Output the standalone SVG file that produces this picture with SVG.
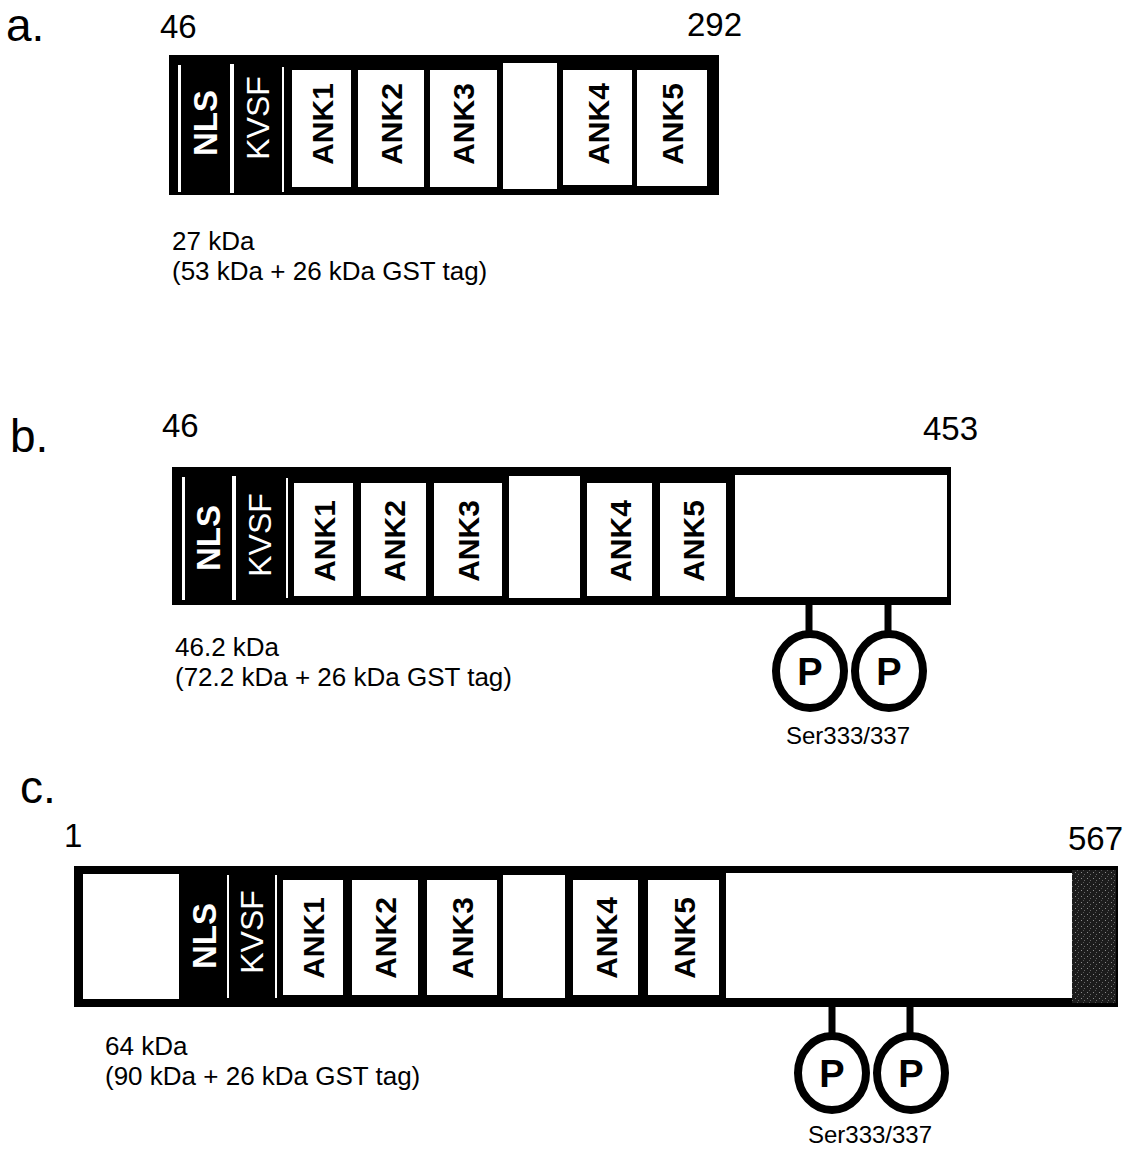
<svg xmlns="http://www.w3.org/2000/svg" width="1132" height="1151" viewBox="0 0 1132 1151">
<style>
text{font-family:"Liberation Sans",Arial,sans-serif;fill:#000}
.lbl{font-size:46px}
.num{font-size:33px}
.kda{font-size:26px}
.ank{font-size:30px;font-weight:bold;text-anchor:middle}
.nls{font-size:33px;font-weight:bold;text-anchor:middle;fill:#fff}
.kvsf{font-size:32px;text-anchor:middle;fill:#fff}
.box{fill:#000}
.w{fill:#fff}
.p{fill:#fff;stroke:#000;stroke-width:8}
.pt{font-size:38px;font-weight:bold;text-anchor:middle}
.ser{font-size:24px;text-anchor:middle}
.stem{stroke:#000;stroke-width:7}
</style>
<defs>
<pattern id="stip" width="6" height="6" patternUnits="userSpaceOnUse">
<rect width="6" height="6" fill="#1c1c1c"/>
<rect x="1" y="2" width="1" height="1" fill="#8a8a8a"/>
<rect x="4" y="4" width="1" height="1" fill="#6a6a6a"/>
<rect x="3" y="0" width="1" height="1" fill="#555"/>
</pattern>
</defs>

<!-- Panel a -->
<g id="panel-a">
<text class="lbl" x="6" y="41">a.</text>
<text class="num" x="160" y="38">46</text>
<text class="num" x="742" y="36" text-anchor="end">292</text>
<g id="a-protein">
<rect class="box" x="169" y="55" width="550" height="140"/>
<rect class="w" x="178" y="65" width="3" height="127"/>
<rect class="w" x="230" y="64" width="4" height="129"/>
<rect class="w" x="282" y="67" width="2" height="125"/>
</g>
<g id="a-nls"><text class="nls" transform="translate(205,123) rotate(-90)" dy="12">NLS</text></g>
<g id="a-kvsf"><text class="kvsf" transform="translate(258,118) rotate(-90)" dy="11">KVSF</text></g>
<g id="a-ank1"><rect class="w" x="292" y="70" width="59" height="117"/><text class="ank" transform="translate(322,124) rotate(-90)" dy="11">ANK1</text></g>
<g id="a-ank2"><rect class="w" x="358" y="70" width="66" height="117"/><text class="ank" transform="translate(391,124) rotate(-90)" dy="11">ANK2</text></g>
<g id="a-ank3"><rect class="w" x="430" y="70" width="67" height="117"/><text class="ank" transform="translate(463,124) rotate(-90)" dy="11">ANK3</text></g>
<g id="a-gap"><rect class="w" x="503" y="63" width="54" height="126"/></g>
<g id="a-ank4"><rect class="w" x="563" y="70" width="69" height="115"/><text class="ank" transform="translate(598,124) rotate(-90)" dy="11">ANK4</text></g>
<g id="a-ank5"><rect class="w" x="637" y="70" width="70" height="116"/><text class="ank" transform="translate(672,124) rotate(-90)" dy="11">ANK5</text></g>
<text class="kda" x="172" y="250">27 kDa</text>
<text class="kda" x="172" y="280">(53 kDa + 26 kDa GST tag)</text>
</g>

<!-- Panel b -->
<g id="panel-b">
<text class="lbl" x="10" y="452">b.</text>
<text class="num" x="162" y="437">46</text>
<text class="num" x="978" y="440" text-anchor="end">453</text>
<g id="b-protein">
<rect class="box" x="172" y="467" width="779" height="138"/>
<rect class="w" x="182" y="477" width="3" height="123"/>
<rect class="w" x="232" y="476" width="4" height="124"/>
<rect class="w" x="286" y="478" width="2" height="120"/>
</g>
<g id="b-nls"><text class="nls" transform="translate(208,538) rotate(-90)" dy="12">NLS</text></g>
<g id="b-kvsf"><text class="kvsf" transform="translate(260,535) rotate(-90)" dy="11">KVSF</text></g>
<g id="b-ank1"><rect class="w" x="294" y="483" width="59" height="113"/><text class="ank" transform="translate(324,541) rotate(-90)" dy="11">ANK1</text></g>
<g id="b-ank2"><rect class="w" x="361" y="483" width="65" height="113"/><text class="ank" transform="translate(394,541) rotate(-90)" dy="11">ANK2</text></g>
<g id="b-ank3"><rect class="w" x="434" y="483" width="68" height="113"/><text class="ank" transform="translate(468,541) rotate(-90)" dy="11">ANK3</text></g>
<g id="b-gap"><rect class="w" x="509" y="476" width="71" height="122"/></g>
<g id="b-ank4"><rect class="w" x="587" y="483" width="65" height="113"/><text class="ank" transform="translate(620,541) rotate(-90)" dy="11">ANK4</text></g>
<g id="b-ank5"><rect class="w" x="660" y="483" width="66" height="113"/><text class="ank" transform="translate(693,541) rotate(-90)" dy="11">ANK5</text></g>
<g id="b-cterm"><rect class="w" x="735" y="475" width="212" height="122"/></g>
<g id="b-p1"><ellipse class="p" cx="810" cy="671" rx="34" ry="37"/><text class="pt" x="810" y="685">P</text></g>
<g id="b-p2"><ellipse class="p" cx="889" cy="671" rx="34" ry="37"/><text class="pt" x="889" y="685">P</text></g>
<text class="ser" x="848" y="744">Ser333/337</text>
<text class="kda" x="175" y="656">46.2 kDa</text>
<text class="kda" x="175" y="686">(72.2 kDa + 26 kDa GST tag)</text>
</g>

<!-- Panel c -->
<g id="panel-c">
<text class="lbl" x="20" y="803">c.</text>
<text class="num" x="64" y="847">1</text>
<text class="num" x="1123" y="850" text-anchor="end">567</text>
<g id="c-protein">
<rect class="box" x="74" y="866" width="1044" height="141"/>
<rect class="w" x="227" y="875" width="2" height="123"/>
<rect class="w" x="275" y="875" width="2" height="123"/>
</g>
<g id="c-nterm"><rect class="w" x="83" y="874" width="96" height="125"/></g>
<g id="c-nls"><text class="nls" transform="translate(204,936) rotate(-90)" dy="12">NLS</text></g>
<g id="c-kvsf"><text class="kvsf" transform="translate(252,932) rotate(-90)" dy="11">KVSF</text></g>
<g id="c-ank1"><rect class="w" x="283" y="880" width="60" height="115"/><text class="ank" transform="translate(313,938) rotate(-90)" dy="11">ANK1</text></g>
<g id="c-ank2"><rect class="w" x="352" y="880" width="66" height="115"/><text class="ank" transform="translate(385,938) rotate(-90)" dy="11">ANK2</text></g>
<g id="c-ank3"><rect class="w" x="427" y="880" width="70" height="115"/><text class="ank" transform="translate(462,938) rotate(-90)" dy="11">ANK3</text></g>
<g id="c-gap"><rect class="w" x="503" y="875" width="62" height="123"/></g>
<g id="c-ank4"><rect class="w" x="573" y="880" width="65" height="115"/><text class="ank" transform="translate(606,938) rotate(-90)" dy="11">ANK4</text></g>
<g id="c-ank5"><rect class="w" x="648" y="880" width="71" height="115"/><text class="ank" transform="translate(684,938) rotate(-90)" dy="11">ANK5</text></g>
<g id="c-cterm"><rect class="w" x="726" y="873" width="346" height="125"/></g>
<g id="c-tail"><rect x="1072" y="870" width="44" height="133" fill="url(#stip)"/></g>
<g id="c-p1"><ellipse class="p" cx="832" cy="1073" rx="34" ry="37"/><text class="pt" x="832" y="1087">P</text></g>
<g id="c-p2"><ellipse class="p" cx="911" cy="1073" rx="34" ry="37"/><text class="pt" x="911" y="1087">P</text></g>
<text class="ser" x="870" y="1143">Ser333/337</text>
<text class="kda" x="105" y="1055">64 kDa</text>
<text class="kda" x="105" y="1085">(90 kDa + 26 kDa GST tag)</text>
</g>

<!-- connectors: phosphorylation stems -->
<g id="connectors">
<line class="stem" x1="809" y1="604" x2="809" y2="634"/>
<line class="stem" x1="888" y1="604" x2="888" y2="634"/>
<line class="stem" x1="832" y1="1006" x2="832" y2="1036"/>
<line class="stem" x1="910" y1="1006" x2="910" y2="1036"/>
</g>
</svg>
